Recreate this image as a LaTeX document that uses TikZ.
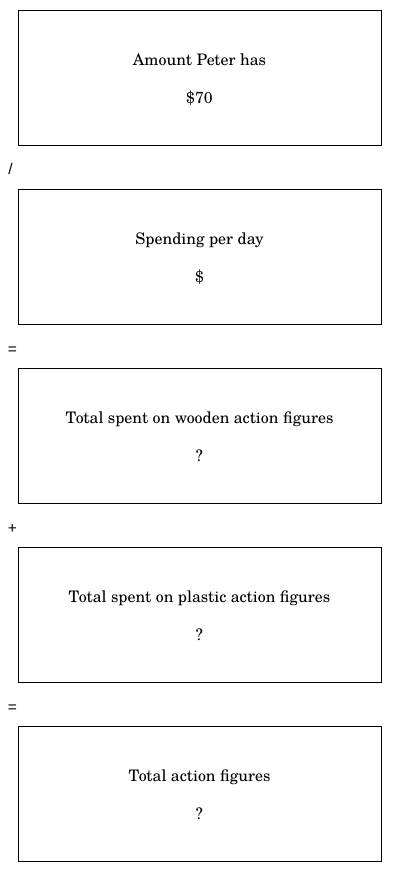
\documentclass[tikz,border=0pt]{standalone}
\usepackage{fontspec}
\usetikzlibrary{calc}
\newfontfamily\opfont{Liberation Sans}
\newfontfamily\scholafont{TeX Gyre Schola}
\tikzset{
  qbox/.style={draw, line width=0.8pt, minimum width=363pt, minimum height=135pt, inner sep=0pt},
  qtext/.style={font=\scholafont\fontsize{15.9}{18}\selectfont, inner sep=0pt, anchor=base},
  optext/.style={font=\opfont\fontsize{15.5}{18}\selectfont, inner sep=0pt}
}
\begin{document}
\begin{tikzpicture}[x=1pt,y=-1pt]
\useasboundingbox (0,0) rectangle (400,872);
\foreach \i/\t/\v in {1/Amount Peter has/\$70, 2/Spending per day/\$, 3/Total spent on wooden action figures/?, 4/Total spent on plastic action figures/?, 5/Total action figures/?}{
  \pgfmathsetmacro\yc{77.5+179*(\i-1)}
  \node[qbox] (b\i) at (199.5,\yc) {};
  \node[qtext] (t\i) at ($(b\i.center)+(0,-12)$) {\t};
  \node[qtext] (v\i) at ($(b\i.center)+(0,26)$) {\v};
}
\node[optext] (o1) at (10.5,169) {/};
\node[optext] (o2) at (12.5,350.5) {=};
\node[optext] (o3) at (12.5,529) {+};
\node[optext] (o4) at (12.5,708.5) {=};
\end{tikzpicture}
\end{document}
